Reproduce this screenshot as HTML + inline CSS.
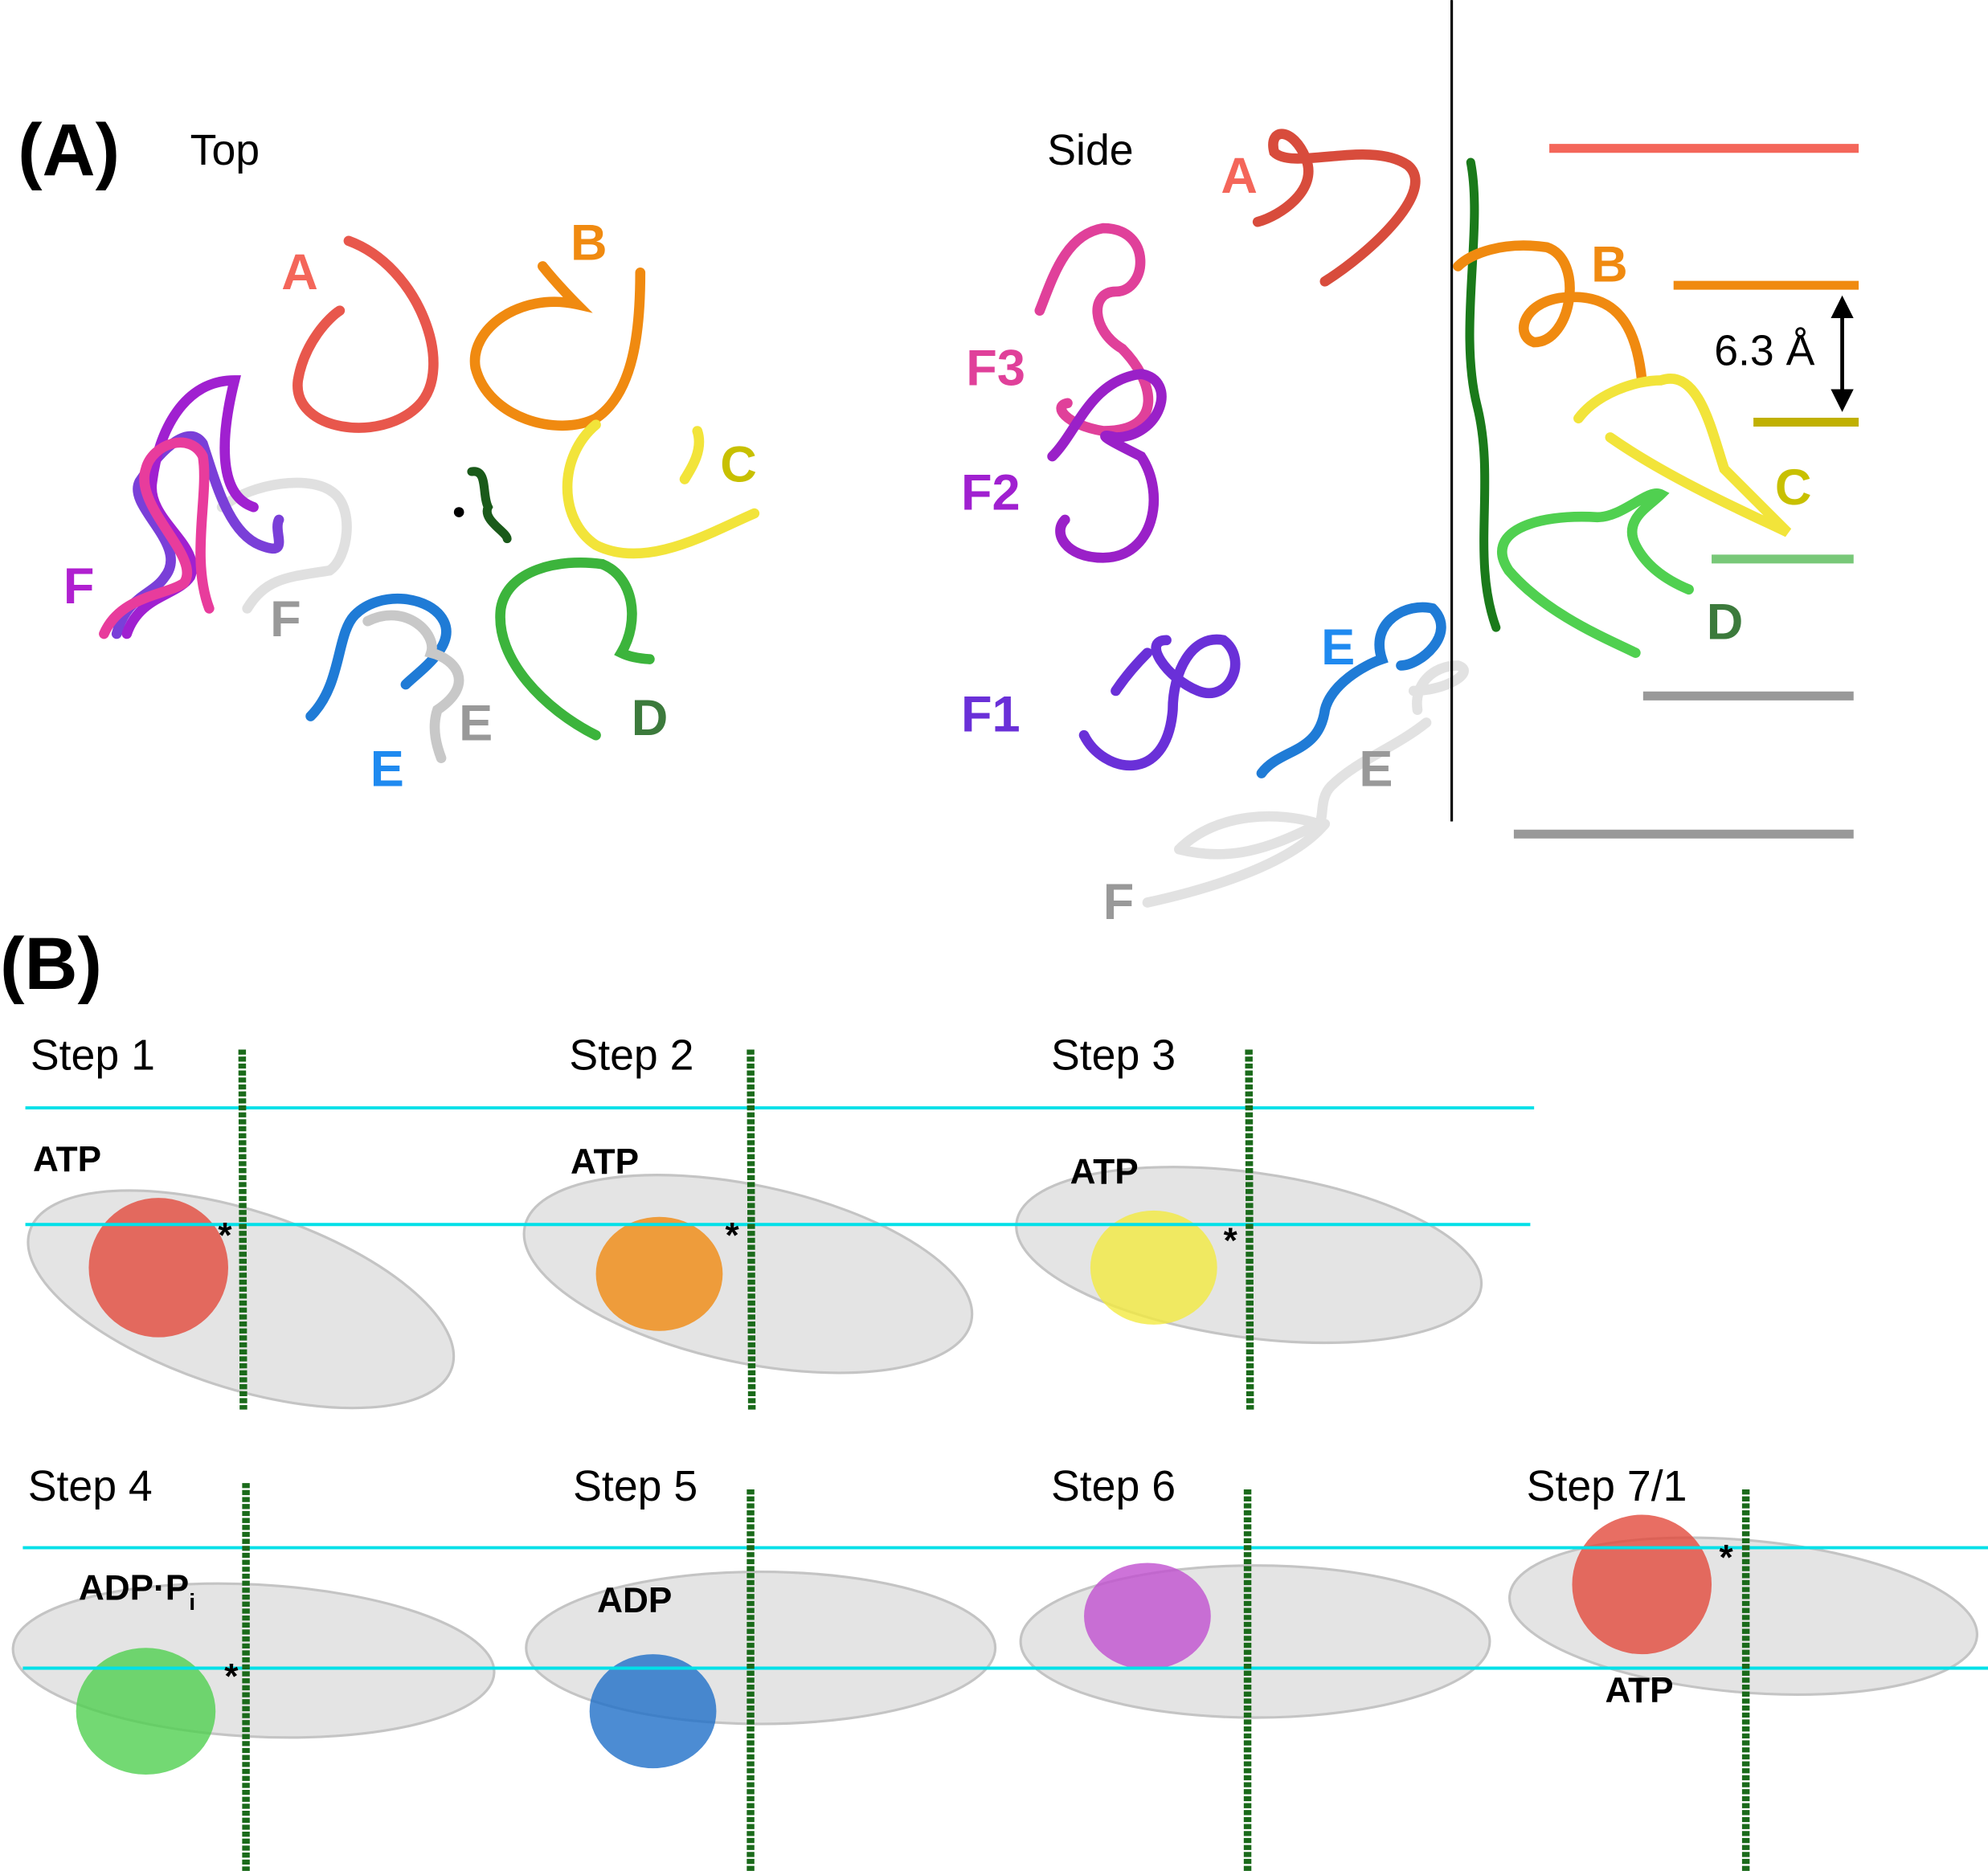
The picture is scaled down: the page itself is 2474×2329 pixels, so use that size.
<!DOCTYPE html>
<html><head><meta charset="utf-8"><style>
html,body{margin:0;padding:0;background:#fff;}
svg{display:block;}
text{font-family:"Liberation Sans",Arial,sans-serif;}
</style></head><body>
<svg width="2474" height="2329" viewBox="0 0 1568 1476" xmlns="http://www.w3.org/2000/svg">
<defs>
<marker id="ah" markerWidth="6" markerHeight="6" refX="3" refY="3" orient="auto-start-reverse"><path d="M0,0 L6,3 L0,6 z" fill="#000"/></marker>
</defs>
<g fill="none" stroke-linecap="round" stroke-width="8">
<path d="M275,190 C330,210 360,290 330,320 C300,350 230,340 235,300 C240,270 260,250 268,245" stroke="#e8574c"/>
<path d="M428,210 C440,225 455,240 455,240 C410,230 370,260 375,290 C385,330 440,345 470,330 C500,310 505,260 505,215" stroke="#f08a10"/>
<path d="M470,335 C440,360 440,410 470,430 C510,450 560,420 595,405 M550,340 C555,355 545,370 540,378" stroke="#f2e43a"/>
<path d="M470,580 C430,560 390,520 395,480 C400,450 440,440 475,445 C500,455 505,490 490,515 C500,520 515,520 512,520" stroke="#3cb43c"/>
<path d="M245,565 C270,540 265,500 280,485 C300,465 340,470 350,490 C360,510 330,530 320,540" stroke="#1f7bd6"/>
<path d="M290,490 C320,475 345,500 340,515 C360,520 375,540 345,560 C340,575 345,590 348,598" stroke="#c8c8c8"/>
<path d="M175,400 C200,380 245,375 262,388 C280,400 275,440 260,450 C230,455 210,455 195,480" stroke="#e0e0e0"/>
<path d="M92,500 C100,470 120,470 130,455 C150,430 100,400 110,380 C130,350 150,335 160,350 C170,380 180,420 205,430 C230,440 215,420 220,410" stroke="#7a3fd8"/>
<path d="M100,500 C110,470 140,470 150,455 C160,430 115,410 120,380 C125,340 145,300 185,300 C175,340 170,390 200,400" stroke="#a020d0"/>
<path d="M82,500 C95,470 130,470 145,460 C160,440 105,400 115,370 C120,350 150,340 160,360 C165,390 150,440 165,480" stroke="#e83c9c"/>
<path d="M372,372 C385,370 380,390 385,400 C380,410 400,420 400,425" stroke="#1a5a1a" stroke-width="7"/>
<path d="M992,175 C1010,170 1040,150 1030,125 C1020,100 1000,100 1005,120 C1020,135 1080,110 1110,130 C1135,150 1080,200 1045,222" stroke="#d84c3c"/>
<path d="M820,245 C830,220 840,185 870,180 C910,180 905,230 880,230 C860,230 860,260 885,275 C910,300 920,340 870,340 C840,335 830,320 842,318" stroke="#e0409a"/>
<path d="M830,360 C850,340 860,300 900,295 C930,300 915,345 880,345 C860,340 880,350 900,360 C920,390 910,440 870,440 C840,440 830,420 840,410" stroke="#9a20c8"/>
<path d="M855,580 C870,610 920,620 925,560 C925,530 940,500 965,505 C985,520 970,555 945,545 C920,535 900,505 920,505 M880,545 C890,530 900,520 905,515" stroke="#6a30d8"/>
<path d="M1160,128 C1170,180 1150,260 1165,320 C1180,380 1160,440 1180,495" stroke="#1a7a1a" stroke-width="7"/>
<path d="M1150,210 C1160,200 1185,190 1220,195 C1250,205 1240,270 1210,270 C1195,265 1200,240 1230,235 C1270,230 1290,250 1295,300" stroke="#f08a10"/>
<path d="M1245,330 C1260,310 1290,300 1310,300 C1340,290 1350,340 1360,370 C1380,390 1400,410 1410,420 C1390,410 1320,380 1270,345" stroke="#f2e43a"/>
<path d="M1290,515 C1270,505 1220,485 1190,450 C1170,420 1210,405 1260,408 C1280,408 1300,385 1310,390 C1300,400 1280,410 1290,430 C1300,450 1320,460 1332,465" stroke="#50d050"/>
<path d="M995,610 C1010,590 1040,595 1045,560 C1050,540 1075,525 1090,520 C1080,490 1110,475 1130,480 C1150,500 1120,525 1105,525" stroke="#1f7bd6"/>
<path d="M1125,570 C1100,590 1070,600 1050,620 C1040,630 1045,645 1040,650 C1000,670 970,680 930,670 M1040,650 C1010,640 960,640 930,670 M1045,650 C1020,680 960,700 905,712 M1115,545 C1140,545 1165,530 1150,525 C1130,525 1115,540 1118,560" stroke="#e2e2e2"/>
</g>
<circle cx="362" cy="404" r="4" fill="#000"/>
<line x1="1145" y1="0" x2="1145" y2="648" stroke="#000" stroke-width="2"/>
<g stroke-width="7">
<line x1="1222" y1="117" x2="1466" y2="117" stroke="#f4665a"/>
<line x1="1320" y1="225" x2="1466" y2="225" stroke="#f08a10"/>
<line x1="1383" y1="333" x2="1466" y2="333" stroke="#c0b000"/>
<line x1="1350" y1="441" x2="1462" y2="441" stroke="#78c878"/>
<line x1="1296" y1="549" x2="1462" y2="549" stroke="#999"/>
<line x1="1194" y1="658" x2="1462" y2="658" stroke="#999"/>
</g>
<line x1="1453" y1="242" x2="1453" y2="316" stroke="#000" stroke-width="3" marker-start="url(#ah)" marker-end="url(#ah)"/>
<g font-size="34">
<text x="1352" y="288">6.3 Å</text>
<text x="150" y="130">Top</text>
<text x="826" y="130">Side</text>
</g>
<text x="14" y="138" font-size="58" font-weight="bold">(A)</text>
<g font-size="40" font-weight="bold">
<text x="222" y="228" fill="#f4665a">A</text>
<text x="450" y="205" fill="#f08a10">B</text>
<text x="568" y="380" fill="#c8c000">C</text>
<text x="498" y="580" fill="#3c7a3c">D</text>
<text x="292" y="620" fill="#1f8af0">E</text>
<text x="362" y="584" fill="#999">E</text>
<text x="213" y="502" fill="#999">F</text>
<text x="50" y="476" fill="#b020d0">F</text>
<text x="963" y="152" fill="#f4665a">A</text>
<text x="1255" y="222" fill="#f08a10">B</text>
<text x="1400" y="398" fill="#c8c000">C</text>
<text x="1346" y="504" fill="#3c7a3c">D</text>
<text x="1042" y="524" fill="#1f8af0">E</text>
<text x="1072" y="620" fill="#999">E</text>
<text x="870" y="725" fill="#999">F</text>
<text x="762" y="304" fill="#e0409a">F3</text>
<text x="758" y="402" fill="#a020d0">F2</text>
<text x="758" y="577" fill="#6a30d8">F1</text>
</g>
<text x="0" y="780" font-size="58" font-weight="bold">(B)</text>
<g font-size="34">
<text x="24" y="844">Step 1</text><text x="449" y="844">Step 2</text><text x="829" y="844">Step 3</text>
<text x="22" y="1184">Step 4</text><text x="452" y="1184">Step 5</text><text x="829" y="1184">Step 6</text><text x="1204" y="1184">Step 7/1</text>
</g>
<g fill="#e4e4e4" stroke="#c4c4c4" stroke-width="2">
<ellipse cx="190" cy="1025" rx="175" ry="70" transform="rotate(18 190 1025)"/>
<ellipse cx="590" cy="1005" rx="180" ry="70" transform="rotate(12 590 1005)"/>
<ellipse cx="985" cy="990" rx="185" ry="65" transform="rotate(8 985 990)"/>
<ellipse cx="200" cy="1310" rx="190" ry="60" transform="rotate(3 200 1310)"/>
<ellipse cx="600" cy="1300" rx="185" ry="60"/>
<ellipse cx="990" cy="1295" rx="185" ry="60"/>
<ellipse cx="1375" cy="1275" rx="185" ry="60" transform="rotate(5 1375 1275)"/>
</g>
<g stroke="none" opacity="0.8">
<ellipse cx="125" cy="1000" rx="55" ry="55" fill="#e24a3c"/>
<ellipse cx="520" cy="1005" rx="50" ry="45" fill="#f08a10"/>
<ellipse cx="910" cy="1000" rx="50" ry="45" fill="#f2ea40"/>
<ellipse cx="115" cy="1350" rx="55" ry="50" fill="#50d050"/>
<ellipse cx="515" cy="1350" rx="50" ry="45" fill="#1f6fc8"/>
<ellipse cx="905" cy="1275" rx="50" ry="42" fill="#c050d0"/>
<ellipse cx="1295" cy="1250" rx="55" ry="55" fill="#e24a3c"/>
</g>
<g stroke="#00e0e8" stroke-width="2.5">
<line x1="20" y1="874" x2="1210" y2="874"/>
<line x1="20" y1="966" x2="1207" y2="966"/>
<line x1="18" y1="1221" x2="1568" y2="1221"/>
<line x1="18" y1="1316" x2="1568" y2="1316"/>
</g>
<g stroke="#1a6a1a" stroke-width="6" stroke-dasharray="4 1.5">
<line x1="191" y1="828" x2="192" y2="1112"/>
<line x1="592" y1="828" x2="593" y2="1112"/>
<line x1="985" y1="828" x2="986" y2="1112"/>
<line x1="194" y1="1170" x2="194" y2="1476"/>
<line x1="592" y1="1175" x2="592" y2="1476"/>
<line x1="984" y1="1175" x2="984" y2="1476"/>
<line x1="1377" y1="1175" x2="1377" y2="1476"/>
</g>
<g font-size="28" font-weight="bold">
<text x="26" y="924">ATP</text><text x="450" y="926">ATP</text><text x="844" y="934">ATP</text>
<text x="62" y="1262">ADP·P<tspan font-size="18" dy="8">i</tspan></text>
<text x="471" y="1272">ADP</text><text x="1266" y="1343">ATP</text>
<text x="172" y="984">*</text><text x="572" y="984">*</text><text x="965" y="988">*</text>
<text x="177" y="1332">*</text><text x="1356" y="1238">*</text>
</g>
</svg>
</body></html>
